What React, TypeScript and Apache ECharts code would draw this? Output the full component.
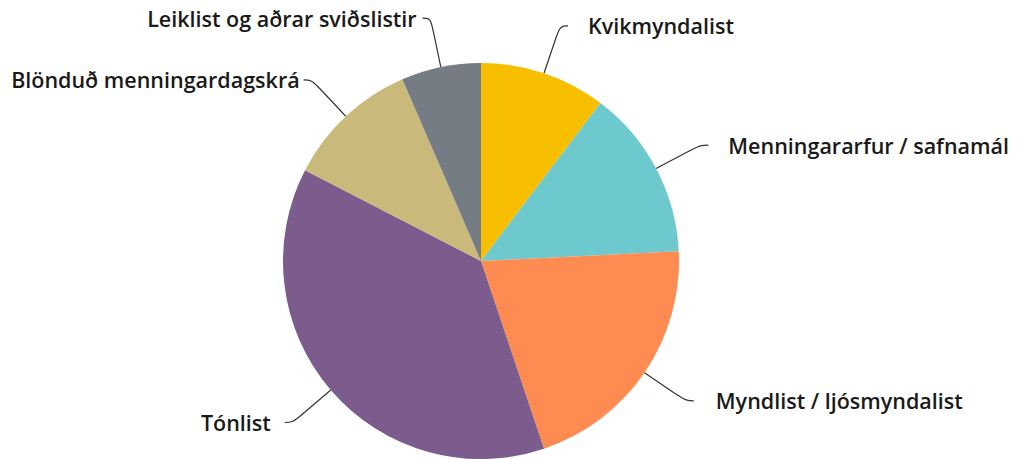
import React, { useEffect, useRef } from "react";
import * as echarts from "echarts";

const categories = [
  "Kvikmyndalist",
  "Menningararfur / safnamál",
  "Myndlist / ljósmyndalist",
  "Tónlist",
  "Blönduð menningardagskrá",
  "Leiklist og aðrar sviðslistir",
];
const values = [10.3, 13.9, 20.6, 37.7, 10.9, 6.5];
const colors = ["#F8BF00", "#6DC9CD", "#FE8B51", "#7B5C8D", "#C9B97B", "#757C84"];
const labelGaps = [20, 20, 22, 14, 4, 6];
const labelDrop = [4, 8, 14, 16, 10, 4];

export default function App() {
  const ref = useRef<HTMLDivElement>(null);
  useEffect(() => {
    document.body.style.margin = "0";
    const chart = echarts.init(ref.current!, null, { renderer: "svg" });
    chart.setOption({
      animation: false,
      backgroundColor: "#ffffff",
      series: [
        {
          type: "pie",
          center: [481, 261],
          radius: 198,
          startAngle: 90,
          clockwise: true,
          avoidLabelOverlap: false,
          data: categories.map((name, i) => ({
            name,
            value: values[i],
            itemStyle: { color: colors[i] },
            label: {
              distanceToLabelLine: labelGaps[i],
              padding: [labelDrop[i], 0, 0, 0],
            },
          })),
          itemStyle: { borderWidth: 0 },
          label: {
            show: true,
            position: "outside",
            formatter: "{b}",
            color: "#1a1a1a",
            fontFamily: "Open Sans",
            fontWeight: 600,
            fontSize: 21.5,
          },
          labelLine: {
            show: true,
            length: 50,
            length2: 8,
            smooth: 0.4,
            lineStyle: { color: "#333333", width: 1.2 },
          },
        },
      ],
    });
    return () => chart.dispose();
  }, []);
  return <div ref={ref} style={{ width: 1020, height: 459 }} />;
}
